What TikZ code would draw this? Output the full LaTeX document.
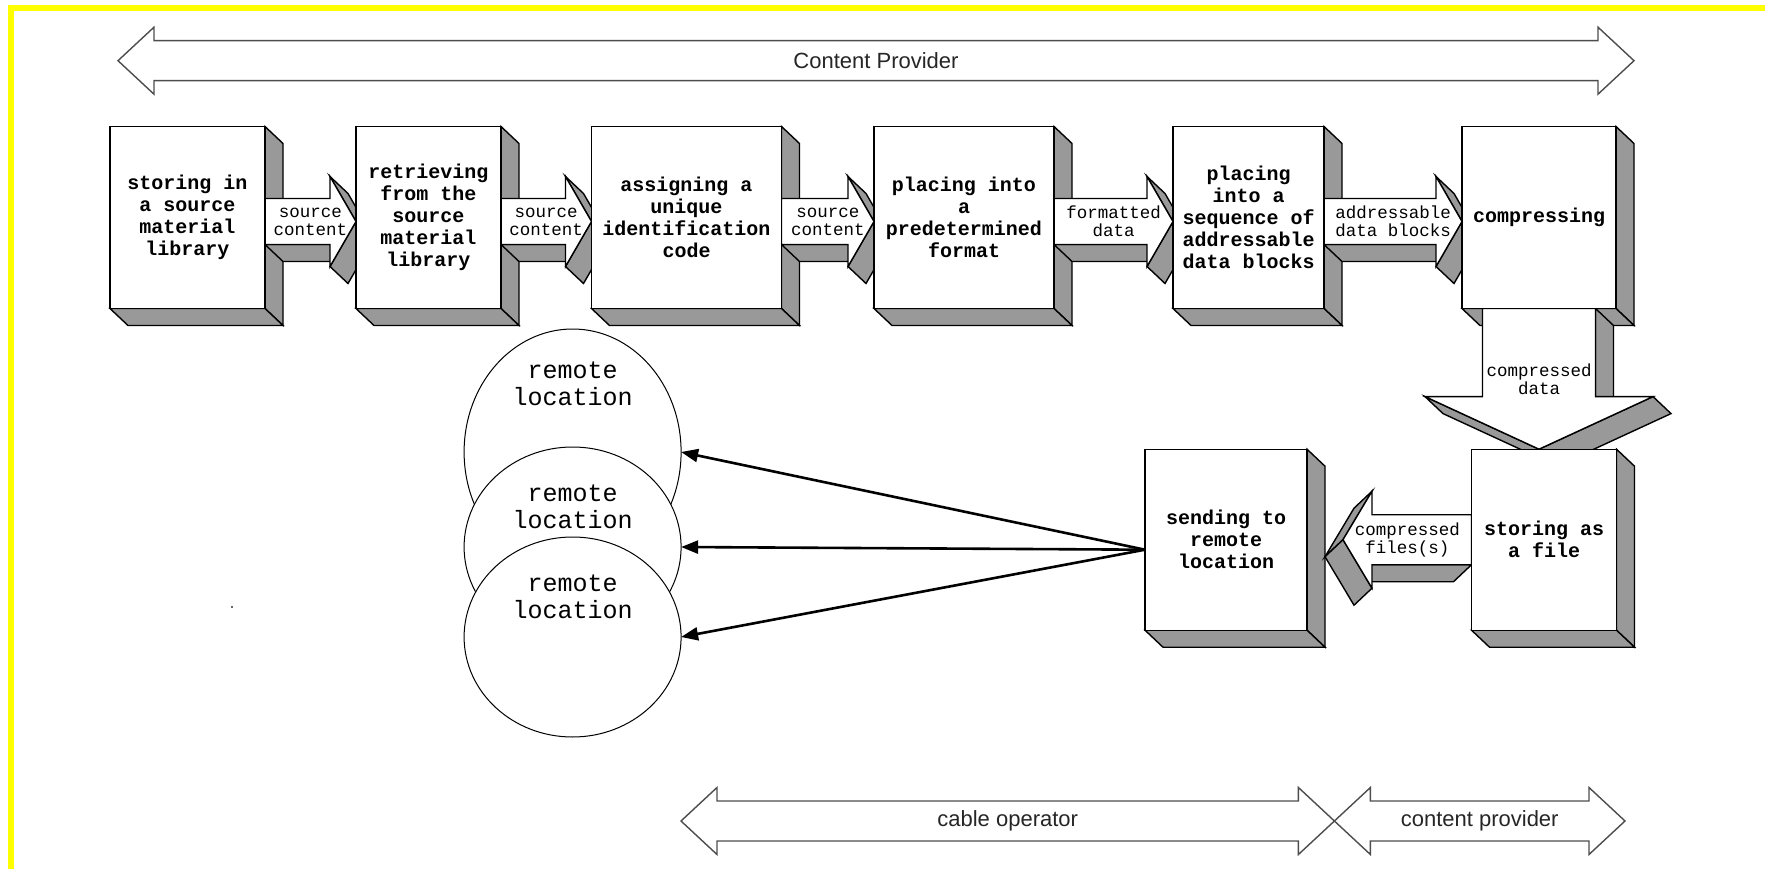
\documentclass[tikz,border=0pt]{standalone}
\usepackage{fontspec}
\setmainfont{Liberation Sans}
\setsansfont{Liberation Sans}
\setmonofont{Liberation Mono}
\usetikzlibrary{calc,shapes.geometric,arrows.meta}
\pgfdeclarelayer{bg}
\pgfdeclarelayer{faces}
\pgfdeclarelayer{arrowlayer}
\pgfsetlayers{bg,faces,arrowlayer,main}
\definecolor{facegray}{HTML}{999999}
\definecolor{yel}{HTML}{FFFF00}
\definecolor{dblline}{HTML}{4D4D4D}
\tikzset{
 bbox/.style={draw=black, line width=1.4pt, fill=white, inner sep=0pt, outer sep=0pt, align=center,
   font=\fontsize{20}{22}\selectfont\ttfamily\bfseries},
 facepoly/.style={draw=black, line width=1.4pt, fill=facegray},
 frontpoly/.style={draw=black, line width=1.4pt, fill=white},
 lbl/.style={inner sep=0pt, align=center, font=\fontsize{17.5}{18}\selectfont\ttfamily},
 circ/.style={ellipse, draw=black, line width=1pt, fill=white, minimum width=217pt, minimum height=200pt, inner sep=0pt, outer sep=0pt},
 circtxt/.style={inner sep=0pt, align=center, font=\fontsize{25}{27}\selectfont\ttfamily},
 conn/.style={line width=2.6pt, -{Triangle[length=17pt,width=13pt]}},
 dbl/.style={draw=dblline, line width=1.4pt},
 dbltxt/.style={inner sep=0pt, text=black!85, font=\fontsize{22}{24}\selectfont\sffamily},
}
% 3D faces of a box node
\newcommand\myboxfaces[1]{%
 \begin{pgfonlayer}{faces}
 \filldraw[facepoly] (#1.north east) -- ++(18,17) -- ($(#1.south east)+(18,17)$) -- (#1.south east) -- cycle;
 \filldraw[facepoly] (#1.south west) -- (#1.south east) -- ++(18,17) -- ($(#1.south west)+(18,17)$) -- cycle;
 \end{pgfonlayer}}
% right-pointing 3D block arrow from node #1 to node #2, prefix #3
\newcommand\myrarrow[3]{%
 \coordinate (#3s) at ($(#1.east)+(0,4)$);
 \coordinate (#3t) at ($(#2.west)+(0,4)$);
 \begin{pgfonlayer}{arrowlayer}
 \path (#3s) ++(0,-23) coordinate (#3A) (#3s) ++(0,23) coordinate (#3F)
       (#3t) ++(-26,-23) coordinate (#3B) (#3t) ++(-26,-45) coordinate (#3C)
       (#3t) ++(-26,45) coordinate (#3D) (#3t) ++(-26,23) coordinate (#3E);
 \filldraw[facepoly] (#3E) -- (#3F) -- ++(18,17) -- ($(#3E)+(18,17)$) -- cycle;
 \filldraw[facepoly] (#3C) -- (#3t) -- ++(18,17) -- ($(#3C)+(18,17)$) -- cycle;
 \filldraw[facepoly] (#3t) -- (#3D) -- ++(18,17) -- ($(#3t)+(18,17)$) -- cycle;
 \filldraw[frontpoly] (#3A) -- (#3B) -- (#3C) -- (#3t) -- (#3D) -- (#3E) -- (#3F) -- cycle;
 \end{pgfonlayer}}
% outline double arrow between two coordinates
\newcommand\mydblarrow[2]{%
 \draw[dbl] (#1) -- ++(36,-33.5) -- ++(0,13.5) -- ($(#2)+(-36,-20)$) -- ++(0,-13.5) -- (#2)
   -- ++(-36,33.5) -- ++(0,-13.5) -- ($(#1)+(36,20)$) -- ++(0,13.5) -- cycle;}

\begin{document}
\begin{tikzpicture}[x=1pt,y=-1pt]
\begin{pgfonlayer}{bg}
\fill[white] (0,0) rectangle (1765,869);
\end{pgfonlayer}
\useasboundingbox (0,0) rectangle (1765,869);

% top double arrow
\coordinate (tL) at (118,60.7);
\coordinate (tR) at (1634,60.7);
\mydblarrow{tL}{tR}
\node[dbltxt] (tcp) at ($(tL)!0.5!(tR)$) {Content Provider};

% row of boxes
\node[bbox, minimum width=155pt, minimum height=182pt] (b1) at (187.5,217.5) {storing in\\a source\\material\\library};
\node[bbox, minimum width=145pt, minimum height=182pt] (b2) at (428.5,217.5) {retrieving\\from the\\source\\material\\library};
\node[bbox, minimum width=190pt, minimum height=182pt] (b3) at (686.5,217.5) {assigning a\\unique\\identification\\code};
\node[bbox, minimum width=180pt, minimum height=182pt] (b4) at (964,217.5) {placing into\\a\\predetermined\\format};
\node[bbox, minimum width=151pt, minimum height=182pt] (b5) at (1248.5,217.5) {placing\\into a\\sequence of\\addressable\\data blocks};
\node[bbox, minimum width=154pt, minimum height=182pt] (b6) at (1539,217.5) {compressing};
\node[bbox, minimum width=145pt, minimum height=181pt] (b7) at (1544,539.7) {storing as\\a file};
\node[bbox, minimum width=162pt, minimum height=181pt] (b8) at (1226,539.7) {sending to\\remote\\location};
\myboxfaces{b1}\myboxfaces{b2}\myboxfaces{b3}\myboxfaces{b4}
\myboxfaces{b5}\myboxfaces{b6}\myboxfaces{b7}\myboxfaces{b8}

% block arrows along the row
\myrarrow{b1}{b2}{a12}
\myrarrow{b2}{b3}{a23}
\myrarrow{b3}{b4}{a34}
\myrarrow{b4}{b5}{a45}
\myrarrow{b5}{b6}{a56}
\node[lbl] (l12) at ($(a12s)!0.5!(a12t)$) {source\\content};
\node[lbl] (l23) at ($(a23s)!0.5!(a23t)$) {source\\content};
\node[lbl] (l34) at ($(a34s)!0.5!(a34t)$) {source\\content};
\node[lbl] (l45) at ($(a45s)!0.5!(a45t)$) {formatted\\data};
\node[lbl] (l56) at ($(a56s)!0.5!(a56t)$) {addressable\\data blocks};

% down arrow b6 -> b7
\coordinate (dS) at (b6.south);
\coordinate (dT) at (b6.south |- b7.north);
\begin{pgfonlayer}{arrowlayer}
\path (dS) ++(-56.5,0) coordinate (dA) (dS) ++(56.5,0) coordinate (dB)
      (dT) ++(56.5,-52.6) coordinate (dE) (dT) ++(114,-52.6) coordinate (dD)
      (dT) ++(-114,-52.6) coordinate (dC) (dT) ++(-56.5,-52.6) coordinate (dG);
\filldraw[facepoly] (dB) -- (dE) -- ++(18,17) -- ($(dB)+(18,17)$) -- cycle;
\filldraw[facepoly] (dD) -- (dT) -- ++(18,17) -- ($(dD)+(18,17)$) -- cycle;
\filldraw[facepoly] (dT) -- (dC) -- ++(18,17) -- ($(dT)+(18,17)$) -- cycle;
\filldraw[frontpoly] (dA) -- (dB) -- (dE) -- (dD) -- (dT) -- (dC) -- (dG) -- cycle;
\end{pgfonlayer}
\node[lbl] (ld) at ($(dS)!0.5!(dT)$) {compressed\\data};

% left arrow b7 -> b8
\coordinate (lS) at (b7.west);
\coordinate (lT) at ($(b8.east |- b7.west)+(36,0)$);
\begin{pgfonlayer}{arrowlayer}
\path (lS) ++(0,-25) coordinate (lA) (lS) ++(0,25) coordinate (lF)
      (lT) ++(29,-25) coordinate (lB) (lT) ++(29,-48.5) coordinate (lC)
      (lT) ++(29,48.5) coordinate (lD) (lT) ++(29,25) coordinate (lE);
\filldraw[facepoly] (lE) -- (lF) -- ++(-18,17) -- ($(lE)+(-18,17)$) -- cycle;
\filldraw[facepoly] (lC) -- (lT) -- ++(-18,17) -- ($(lC)+(-18,17)$) -- cycle;
\filldraw[facepoly] (lT) -- (lD) -- ++(-18,17) -- ($(lT)+(-18,17)$) -- cycle;
\filldraw[frontpoly] (lA) -- (lB) -- (lC) -- (lT) -- (lD) -- (lE) -- (lF) -- cycle;
\end{pgfonlayer}
\node[lbl] (ll) at ($(lS)!0.5!(lT)$) {compressed\\files(s)};

% remote locations
\node[circ, minimum height=246pt] (c1) at (572.6,452) {};
\node[circtxt] (t1) at ($(c1.center)+(0,-68)$) {remote\\location};
\node[circ] (c2) at (572.6,547) {};
\node[circtxt] (t2) at ($(c2.center)+(0,-40)$) {remote\\location};
\node[circ] (c3) at (572.6,637) {};
\node[circtxt] (t3) at ($(c3.center)+(0,-40)$) {remote\\location};

\coordinate (src) at ($(b8.west)+(0,10)$);
\draw[conn] (src) -- (c1.east);
\draw[conn] (src) -- (c2.east);
\draw[conn] (src) -- (c3.east);

% bottom double arrows
\coordinate (cL) at (681,821);
\coordinate (cX) at (1334.4,821);
\coordinate (cR) at (1625,821);
\mydblarrow{cL}{cX}
\mydblarrow{cX}{cR}
\node[dbltxt] (tco) at ($(cL)!0.5!(cX)$) {cable operator};
\node[dbltxt] (tcp2) at ($(cX)!0.5!(cR)$) {content provider};

% stray dot
\fill[black!60] (230.5,605.5) rectangle (233,608);

% yellow frame
\draw[yel, line width=6pt] (11,869) -- (11,8) -- (1765,8);
\end{tikzpicture}
\end{document}
